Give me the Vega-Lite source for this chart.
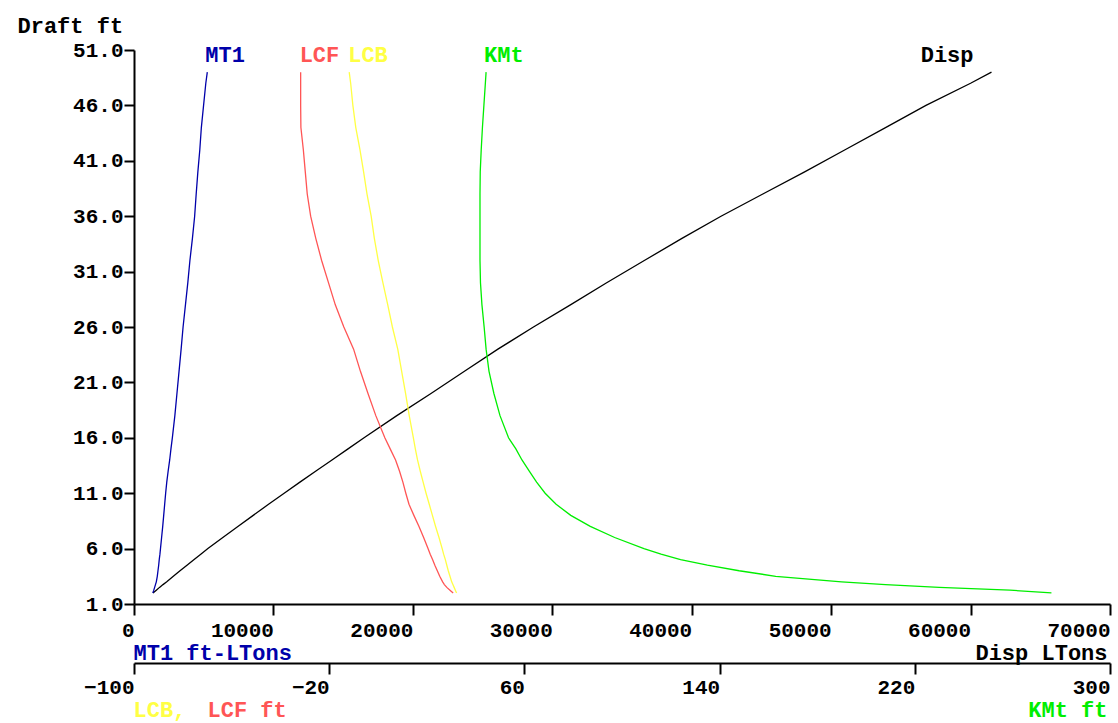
{
  "$schema": "https://vega.github.io/schema/vega-lite/v6.json",
  "autosize": {"type": "none"},
  "width": 976,
  "height": 554,
  "padding": {"left": 134, "top": 50, "right": 8, "bottom": 119},
  "background": "white",
  "data": {"values": [
    {"draft": 2, "disp": 1363, "mt1": 1350, "lcf": 30.8, "lcb": 32.2, "kmt": 276},
    {"draft": 2.25, "disp": 1600, "mt1": 1420, "lcf": 29.5, "lcb": 31.7, "kmt": 259},
    {"draft": 2.5, "disp": 1830, "mt1": 1480, "lcf": 28.2, "lcb": 31.2, "kmt": 230},
    {"draft": 2.75, "disp": 2080, "mt1": 1540, "lcf": 27.2, "lcb": 30.7, "kmt": 208},
    {"draft": 3, "disp": 2350, "mt1": 1600, "lcf": 26.5, "lcb": 30.2, "kmt": 190},
    {"draft": 3.5, "disp": 2820, "mt1": 1670, "lcf": 25.3, "lcb": 29.5, "kmt": 163},
    {"draft": 4, "disp": 3300, "mt1": 1720, "lcf": 24.3, "lcb": 28.8, "kmt": 148},
    {"draft": 4.5, "disp": 3800, "mt1": 1770, "lcf": 23.3, "lcb": 28.2, "kmt": 135},
    {"draft": 5, "disp": 4290, "mt1": 1810, "lcf": 22.4, "lcb": 27.6, "kmt": 124},
    {"draft": 5.5, "disp": 4790, "mt1": 1860, "lcf": 21.4, "lcb": 26.9, "kmt": 116},
    {"draft": 6, "disp": 5300, "mt1": 1900, "lcf": 20.5, "lcb": 26.3, "kmt": 109},
    {"draft": 7, "disp": 6370, "mt1": 1980, "lcf": 18.7, "lcb": 25.0, "kmt": 97},
    {"draft": 8, "disp": 7450, "mt1": 2060, "lcf": 16.8, "lcb": 23.6, "kmt": 87},
    {"draft": 9, "disp": 8550, "mt1": 2130, "lcf": 14.7, "lcb": 22.3, "kmt": 79},
    {"draft": 10, "disp": 9650, "mt1": 2200, "lcf": 12.7, "lcb": 21.0, "kmt": 73},
    {"draft": 11, "disp": 10770, "mt1": 2270, "lcf": 11.4, "lcb": 19.7, "kmt": 68.5},
    {"draft": 12, "disp": 11900, "mt1": 2350, "lcf": 10.2, "lcb": 18.5, "kmt": 65},
    {"draft": 13, "disp": 13050, "mt1": 2450, "lcf": 8.8, "lcb": 17.3, "kmt": 62},
    {"draft": 14, "disp": 14200, "mt1": 2560, "lcf": 7.2, "lcb": 16.2, "kmt": 59},
    {"draft": 15, "disp": 15350, "mt1": 2650, "lcf": 5.0, "lcb": 15.3, "kmt": 56.5},
    {"draft": 16, "disp": 16500, "mt1": 2750, "lcf": 2.8, "lcb": 14.5, "kmt": 53.5},
    {"draft": 18, "disp": 18850, "mt1": 2930, "lcf": -0.9, "lcb": 12.8, "kmt": 50},
    {"draft": 20, "disp": 21300, "mt1": 3080, "lcf": -4.1, "lcb": 11.3, "kmt": 47.5},
    {"draft": 22, "disp": 23700, "mt1": 3230, "lcf": -7.2, "lcb": 9.7, "kmt": 45.5},
    {"draft": 24, "disp": 26100, "mt1": 3380, "lcf": -10.0, "lcb": 8.1, "kmt": 44.3},
    {"draft": 26, "disp": 28650, "mt1": 3520, "lcf": -14.0, "lcb": 5.9, "kmt": 43.5},
    {"draft": 28, "disp": 31300, "mt1": 3690, "lcf": -17.5, "lcb": 4.0, "kmt": 42.6},
    {"draft": 30, "disp": 33900, "mt1": 3860, "lcf": -20.3, "lcb": 2.0, "kmt": 42.0},
    {"draft": 32, "disp": 36600, "mt1": 4010, "lcf": -23.1, "lcb": 0.1, "kmt": 41.8},
    {"draft": 34, "disp": 39300, "mt1": 4190, "lcf": -25.5, "lcb": -1.5, "kmt": 41.8},
    {"draft": 36, "disp": 42100, "mt1": 4350, "lcf": -27.6, "lcb": -2.8, "kmt": 41.8},
    {"draft": 38, "disp": 45100, "mt1": 4460, "lcf": -29.0, "lcb": -4.5, "kmt": 41.8},
    {"draft": 40, "disp": 48100, "mt1": 4580, "lcf": -29.8, "lcb": -5.9, "kmt": 41.9},
    {"draft": 42, "disp": 51000, "mt1": 4720, "lcf": -30.6, "lcb": -7.4, "kmt": 42.3},
    {"draft": 44, "disp": 53900, "mt1": 4830, "lcf": -31.6, "lcb": -9.1, "kmt": 42.8},
    {"draft": 46, "disp": 56800, "mt1": 4990, "lcf": -31.7, "lcb": -10.3, "kmt": 43.4},
    {"draft": 48, "disp": 60000, "mt1": 5150, "lcf": -31.7, "lcb": -11.2, "kmt": 44.0},
    {"draft": 49, "disp": 61500, "mt1": 5257, "lcf": -31.7, "lcb": -11.8, "kmt": 44.3}
  ]},
  "encoding": {
    "y": {
      "field": "draft", "type": "quantitative",
      "scale": {"domain": [1, 51], "nice": false, "zero": false},
      "axis": {
        "values": [1, 6, 11, 16, 21, 26, 31, 36, 41, 46, 51],
        "format": ".1f", "tickSize": 10, "labelPadding": 1,
        "title": "Draft ft", "titleAngle": 0, "titleAlign": "left",
        "titleBaseline": "alphabetic", "titleX": -117, "titleY": -18, "titleColor": "#000"
      }
    },
    "order": {"field": "draft", "type": "quantitative"}
  },
  "layer": [
    {
      "encoding": {
        "x": {
          "field": "disp", "type": "quantitative",
          "scale": {"domain": [0, 70000], "nice": false, "zero": false},
          "axis": {
            "orient": "bottom",
            "values": [0, 10000, 20000, 30000, 40000, 50000, 60000, 70000],
            "format": "d", "tickSize": 11, "labelAlign": "right", "labelBaseline": "top", "labelPadding": 4,
            "title": "Disp LTons", "titleColor": "#000", "titleAlign": "right",
            "titleBaseline": "alphabetic", "titleX": 973, "titleY": 55
          }
        }
      },
      "layer": [
        {"mark": {"type": "line", "color": "#000", "strokeWidth": 1.3}},
        {"transform": [{"filter": "datum.draft == 49"}],
         "mark": {"type": "text", "color": "#000", "align": "right", "baseline": "middle", "dx": -18, "dy": -17},
         "encoding": {"text": {"value": "Disp"}}}
      ]
    },
    {
      "encoding": {
        "x": {
          "field": "mt1", "type": "quantitative",
          "scale": {"domain": [0, 70000], "nice": false, "zero": false},
          "axis": {
            "orient": "bottom", "labels": false, "ticks": false, "domain": false,
            "title": "MT1 ft-LTons", "titleColor": "#0000AA", "titleAlign": "left",
            "titleBaseline": "alphabetic", "titleX": -1, "titleY": 55
          }
        }
      },
      "layer": [
        {"mark": {"type": "line", "color": "#0000AA", "strokeWidth": 1.3}},
        {"transform": [{"filter": "datum.draft == 49"}],
         "mark": {"type": "text", "color": "#0000AA", "align": "left", "baseline": "middle", "dx": -2, "dy": -17},
         "encoding": {"text": {"value": "MT1"}}}
      ]
    },
    {
      "encoding": {
        "x": {
          "field": "lcb", "type": "quantitative",
          "scale": {"domain": [-100, 300], "nice": false, "zero": false},
          "axis": {
            "orient": "bottom", "offset": 59,
            "values": [-100, -20, 60, 140, 220, 300],
            "format": "d", "tickSize": 11, "labelAlign": "right", "labelBaseline": "top", "labelPadding": 2,
            "title": "LCB,", "titleColor": "#FFFF44", "titleAlign": "left",
            "titleBaseline": "alphabetic", "titleX": -1, "titleY": 53
          }
        }
      },
      "layer": [
        {"mark": {"type": "line", "color": "#FFFF44", "strokeWidth": 1.3}},
        {"transform": [{"filter": "datum.draft == 49"}],
         "mark": {"type": "text", "color": "#FFFF44", "align": "left", "baseline": "middle", "dx": -1, "dy": -17},
         "encoding": {"text": {"value": "LCB"}}}
      ]
    },
    {
      "encoding": {
        "x": {
          "field": "lcf", "type": "quantitative",
          "scale": {"domain": [-100, 300], "nice": false, "zero": false},
          "axis": {
            "orient": "bottom", "offset": 59, "labels": false, "ticks": false, "domain": false,
            "title": "LCF ft", "titleColor": "#FF5555", "titleAlign": "left",
            "titleBaseline": "alphabetic", "titleX": 73, "titleY": 53
          }
        }
      },
      "layer": [
        {"mark": {"type": "line", "color": "#FF5555", "strokeWidth": 1.3}},
        {"transform": [{"filter": "datum.draft == 49"}],
         "mark": {"type": "text", "color": "#FF5555", "align": "left", "baseline": "middle", "dx": -1, "dy": -17},
         "encoding": {"text": {"value": "LCF"}}}
      ]
    },
    {
      "encoding": {
        "x": {
          "field": "kmt", "type": "quantitative",
          "scale": {"domain": [-100, 300], "nice": false, "zero": false},
          "axis": {
            "orient": "bottom", "offset": 59, "labels": false, "ticks": false, "domain": false,
            "title": "KMt ft", "titleColor": "#00EE00", "titleAlign": "right",
            "titleBaseline": "alphabetic", "titleX": 973, "titleY": 53
          }
        }
      },
      "layer": [
        {"mark": {"type": "line", "color": "#00EE00", "strokeWidth": 1.3}},
        {"transform": [{"filter": "datum.draft == 49"}],
         "mark": {"type": "text", "color": "#00EE00", "align": "left", "baseline": "middle", "dx": -2, "dy": -17},
         "encoding": {"text": {"value": "KMt"}}}
      ]
    }
  ],
  "resolve": {"scale": {"x": "independent"}, "axis": {"x": "independent"}},
  "config": {
    "view": {"stroke": null},
    "axis": {
      "grid": false,
      "labelFont": "Liberation Mono", "labelFontSize": 21, "labelFontWeight": "bold", "labelColor": "#000",
      "titleFont": "Liberation Mono", "titleFontSize": 22, "titleFontWeight": "bold",
      "domainColor": "#000", "tickColor": "#000", "domainWidth": 2, "tickWidth": 2,
      "labelFlush": false, "labelOverlap": false, "labelBound": false
    },
    "text": {"font": "Liberation Mono", "fontSize": 22, "fontWeight": "bold"}
  }
}
